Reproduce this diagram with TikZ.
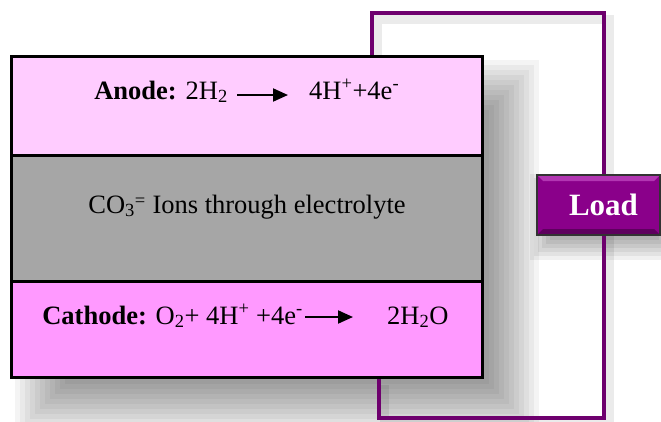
\documentclass[tikz,border=0pt]{standalone}
\usepackage{fontspec}
\setmainfont{Liberation Serif}
\usepackage{tikz}
\usetikzlibrary{arrows.meta,calc,backgrounds}
\definecolor{anodepink}{HTML}{FFCCFF}
\definecolor{cathpink}{HTML}{FF99FF}
\definecolor{electgray}{HTML}{A6A6A6}
\definecolor{wirepurple}{HTML}{6E006E}
\definecolor{loadpurple}{HTML}{8A008A}
\definecolor{loadlight}{HTML}{B236B2}
\definecolor{loaddark}{HTML}{5E005E}
\tikzset{
  layer/.style={draw=black,line width=3pt,minimum width=471pt,inner sep=0pt},
  eqtext/.style={inner sep=0pt,font=\fontsize{26.5}{31}\selectfont},
  rxnarr/.style={-{Triangle[length=15pt,width=13pt]},line width=2pt,draw=black},
  wire/.style={draw=wirepurple,line width=3.5pt},
  wireshadow/.style={draw=black,opacity=0.08,line width=9pt},
  shadowlayer/.style={fill=black,opacity=0.045},
  loadbox/.style={draw=black!80,line width=2pt,fill=loadpurple,text=white,
                  minimum width=123pt,minimum height=60pt,inner sep=0pt,
                  font=\fontsize{31}{36}\selectfont\bfseries,
                  path picture={
                    \fill[loadlight] (path picture bounding box.north west)
                      -- (path picture bounding box.north east)
                      -- ([xshift=-6pt,yshift=-6pt]path picture bounding box.north east)
                      -- ([xshift=6pt,yshift=-6pt]path picture bounding box.north west) -- cycle;
                    \fill[loaddark] (path picture bounding box.south west)
                      -- (path picture bounding box.south east)
                      -- ([xshift=-6pt,yshift=6pt]path picture bounding box.south east)
                      -- ([xshift=6pt,yshift=6pt]path picture bounding box.south west) -- cycle;
                  }}
}
\begin{document}
\begin{tikzpicture}[x=1pt,y=-1pt]
  \useasboundingbox (0,0) rectangle (661,421);

  % cell layers
  \node[layer,fill=anodepink,minimum height=99pt] (anode) at (246.5,105.5) {};
  \node[layer,fill=electgray,minimum height=126pt] (electro) at (246.5,218) {};
  \node[layer,fill=cathpink,minimum height=96pt] (cathode) at (246.5,329) {};

  % reactions
  \node[eqtext,anchor=base east] (anL) at (228,99) {\textbf{Anode:} 2H\textsubscript{2}};
  \node[eqtext,anchor=base west] (anR) at (309,99) {4H\textsuperscript{+}+4e\textsuperscript{-}};
  \draw[rxnarr,shorten <=9pt,shorten >=21pt] ([yshift=4pt]anL.base east) -- ([yshift=4pt]anR.base west);

  \node[eqtext,anchor=base] (ions) at (247,213)
    {CO\textsubscript{3}\raisebox{-3pt}{\textsuperscript{=}} Ions through electrolyte};

  \node[eqtext,anchor=base east] (caL) at (303,324)
    {\textbf{Cathode:} O\textsubscript{2}+ 4H\textsuperscript{+} +4e\textsuperscript{-}};
  \node[eqtext,anchor=base west] (caR) at (387,324) {2H\textsubscript{2}O};
  \draw[rxnarr,shorten <=2pt,shorten >=34pt] ([yshift=7pt]caL.base east) -- ([yshift=7pt]caR.base west);

  % external circuit
  \node[loadbox] (load) at (598.5,205) {\hspace*{10pt}Load};
  \coordinate (wtl) at (372,13);
  \coordinate (wtr) at (604,13);
  \coordinate (wbr) at (604,418);
  \coordinate (wbl) at (379,418);

  \begin{scope}[on background layer]
    \foreach \r in {-25,-20,...,25}
      \fill[shadowlayer] ($(anode.north west)+(30-\r,30-\r)$) rectangle ($(cathode.south east)+(30+\r,30+\r)$);
    \foreach \r in {-12,-8,...,12}
      \fill[shadowlayer,opacity=0.06] ($(load.north west)+(6-\r,12-\r)$) rectangle ($(load.south east)+(6+\r,12+\r)$);
    \draw[wireshadow] ([shift={(5,6)}]anode.north -| wtl) |- ([shift={(5,6)}]wtr) -- ([shift={(5,6)}]wbr) -| ([shift={(5,6)}]cathode.south -| wbl);
    \draw[wire] (anode.north -| wtl) |- (wtr) -- (load.north -| wtr);
    \draw[wire] (load.south -| wbr) -- (wbr) -| (cathode.south -| wbl);
  \end{scope}
\end{tikzpicture}
\end{document}
